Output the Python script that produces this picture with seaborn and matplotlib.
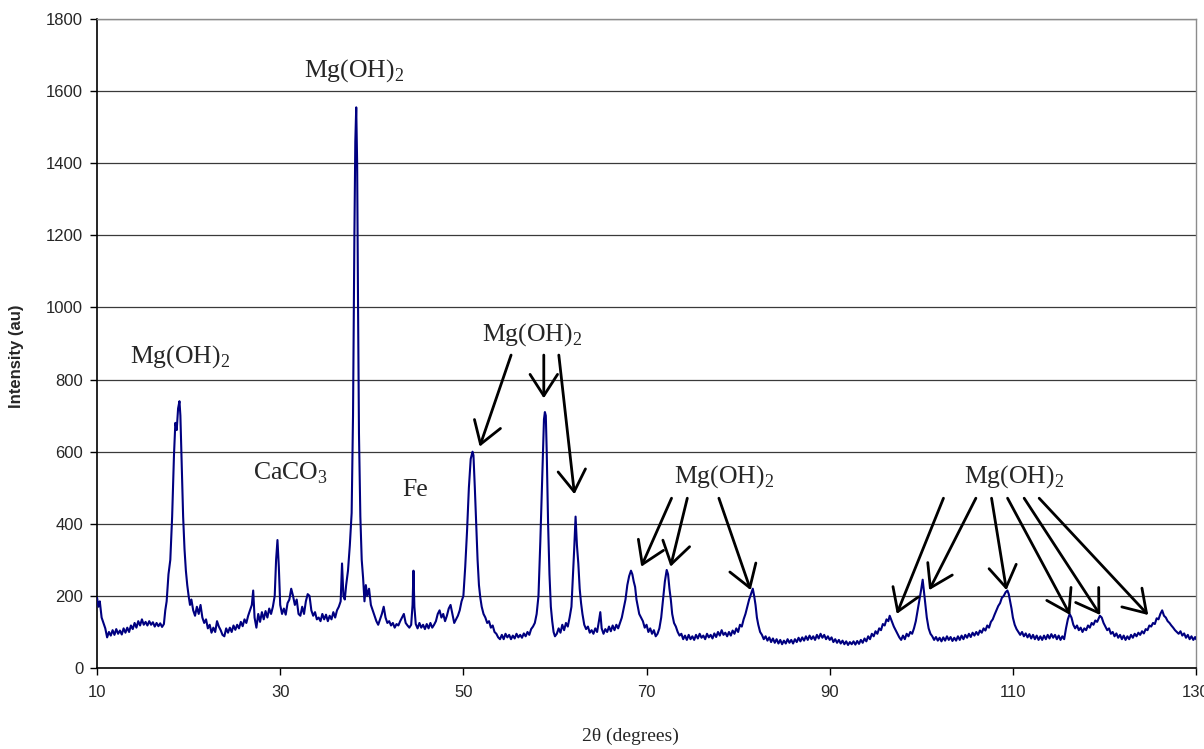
import matplotlib
matplotlib.use("Agg")
import matplotlib.pyplot as plt
import seaborn as sns
import pandas as pd

# XRD scan: 2-theta (degrees) and measured intensity (au)
two_theta = [
    10.0, 10.15, 10.3, 10.5, 10.7, 10.9, 11.1, 11.3, 11.5, 11.7, 11.9, 12.1, 12.3, 12.5, 12.7, 12.9,
    13.1, 13.3, 13.5, 13.7, 13.9, 14.1, 14.3, 14.5, 14.7, 14.9, 15.1, 15.3, 15.5, 15.7, 15.9, 16.1,
    16.3, 16.5, 16.7, 16.9, 17.1, 17.3, 17.45, 17.6, 17.8, 18.0, 18.2, 18.4, 18.55, 18.7, 18.85, 19.0,
    19.1, 19.25, 19.4, 19.55, 19.7, 19.85, 20.0, 20.15, 20.3, 20.5, 20.7, 20.9, 21.1, 21.3, 21.5, 21.7,
    21.9, 22.1, 22.3, 22.5, 22.7, 22.9, 23.1, 23.3, 23.5, 23.7, 23.9, 24.1, 24.3, 24.5, 24.7, 24.9,
    25.1, 25.3, 25.5, 25.7, 25.9, 26.1, 26.3, 26.5, 26.7, 26.9, 27.05, 27.2, 27.4, 27.6, 27.8, 28.0,
    28.2, 28.4, 28.6, 28.8, 29.0, 29.2, 29.4, 29.55, 29.7, 29.85, 30.0, 30.2, 30.4, 30.6, 30.8, 31.0,
    31.2, 31.4, 31.6, 31.8, 32.0, 32.2, 32.4, 32.6, 32.8, 33.0, 33.2, 33.4, 33.6, 33.8, 34.0, 34.2,
    34.4, 34.6, 34.8, 35.0, 35.2, 35.4, 35.6, 35.8, 36.0, 36.2, 36.4, 36.6, 36.75, 36.9, 37.05, 37.2,
    37.4, 37.6, 37.8, 37.95, 38.1, 38.2, 38.3, 38.4, 38.5, 38.6, 38.75, 38.9, 39.05, 39.2, 39.35, 39.5,
    39.7, 39.9, 40.1, 40.3, 40.5, 40.7, 40.9, 41.1, 41.3, 41.5, 41.7, 41.9, 42.1, 42.3, 42.5, 42.7,
    42.9, 43.1, 43.3, 43.5, 43.7, 43.9, 44.1, 44.3, 44.45, 44.55, 44.65, 44.8, 45.0, 45.2, 45.4, 45.6,
    45.8, 46.0, 46.2, 46.4, 46.6, 46.8, 47.0, 47.2, 47.4, 47.6, 47.8, 48.0, 48.2, 48.4, 48.6, 48.8,
    49.0, 49.2, 49.4, 49.6, 49.8, 50.0, 50.2, 50.4, 50.6, 50.8, 51.0, 51.1, 51.25, 51.4, 51.55, 51.7,
    51.85, 52.0, 52.2, 52.4, 52.6, 52.8, 53.0, 53.2, 53.4, 53.6, 53.8, 54.0, 54.2, 54.4, 54.6, 54.8,
    55.0, 55.2, 55.4, 55.6, 55.8, 56.0, 56.2, 56.4, 56.6, 56.8, 57.0, 57.2, 57.4, 57.6, 57.8, 58.0,
    58.2, 58.4, 58.6, 58.8, 58.9, 59.0, 59.1, 59.25, 59.4, 59.55, 59.7, 59.85, 60.0, 60.2, 60.4, 60.6,
    60.8, 61.0, 61.2, 61.4, 61.6, 61.8, 61.95, 62.1, 62.25, 62.4, 62.55, 62.7, 62.85, 63.0, 63.2, 63.4,
    63.6, 63.8, 64.0, 64.2, 64.4, 64.6, 64.8, 64.95, 65.1, 65.3, 65.5, 65.7, 65.9, 66.1, 66.3, 66.5,
    66.7, 66.9, 67.1, 67.3, 67.5, 67.7, 67.9, 68.1, 68.3, 68.45, 68.6, 68.75, 68.9, 69.05, 69.2, 69.4,
    69.6, 69.8, 70.0, 70.2, 70.4, 70.6, 70.8, 71.0, 71.2, 71.4, 71.6, 71.8, 72.0, 72.2, 72.35, 72.5,
    72.65, 72.8, 73.0, 73.2, 73.4, 73.6, 73.8, 74.0, 74.2, 74.4, 74.6, 74.8, 75.0, 75.2, 75.4, 75.6,
    75.8, 76.0, 76.2, 76.4, 76.6, 76.8, 77.0, 77.2, 77.4, 77.6, 77.8, 78.0, 78.2, 78.4, 78.6, 78.8,
    79.0, 79.2, 79.4, 79.6, 79.8, 80.0, 80.2, 80.4, 80.6, 80.8, 81.0, 81.2, 81.4, 81.6, 81.75, 81.9,
    82.05, 82.2, 82.4, 82.6, 82.8, 83.0, 83.2, 83.4, 83.6, 83.8, 84.0, 84.2, 84.4, 84.6, 84.8, 85.0,
    85.2, 85.4, 85.6, 85.8, 86.0, 86.2, 86.4, 86.6, 86.8, 87.0, 87.2, 87.4, 87.6, 87.8, 88.0, 88.2,
    88.4, 88.6, 88.8, 89.0, 89.2, 89.4, 89.6, 89.8, 90.0, 90.2, 90.4, 90.6, 90.8, 91.0, 91.2, 91.4,
    91.6, 91.8, 92.0, 92.2, 92.4, 92.6, 92.8, 93.0, 93.2, 93.4, 93.6, 93.8, 94.0, 94.2, 94.4, 94.6,
    94.8, 95.0, 95.2, 95.4, 95.6, 95.8, 96.0, 96.2, 96.4, 96.55, 96.7, 96.85, 97.0, 97.2, 97.4, 97.6,
    97.8, 98.0, 98.2, 98.4, 98.6, 98.8, 99.0, 99.2, 99.4, 99.6, 99.8, 100.0, 100.15, 100.3, 100.45, 100.6,
    100.8, 101.0, 101.2, 101.4, 101.6, 101.8, 102.0, 102.2, 102.4, 102.6, 102.8, 103.0, 103.2, 103.4, 103.6, 103.8,
    104.0, 104.2, 104.4, 104.6, 104.8, 105.0, 105.2, 105.4, 105.6, 105.8, 106.0, 106.2, 106.4, 106.6, 106.8, 107.0,
    107.2, 107.4, 107.6, 107.8, 108.0, 108.2, 108.4, 108.6, 108.8, 109.0, 109.2, 109.4, 109.55, 109.7, 109.85, 110.0,
    110.2, 110.4, 110.6, 110.8, 111.0, 111.2, 111.4, 111.6, 111.8, 112.0, 112.2, 112.4, 112.6, 112.8, 113.0, 113.2,
    113.4, 113.6, 113.8, 114.0, 114.2, 114.4, 114.6, 114.8, 115.0, 115.2, 115.4, 115.6, 115.8, 116.0, 116.2, 116.4,
    116.6, 116.8, 117.0, 117.2, 117.4, 117.6, 117.8, 118.0, 118.2, 118.4, 118.6, 118.8, 119.0, 119.2, 119.5, 119.7,
    119.9, 120.1, 120.3, 120.5, 120.7, 120.9, 121.1, 121.3, 121.5, 121.7, 121.9, 122.1, 122.3, 122.5, 122.7, 122.9,
    123.1, 123.3, 123.5, 123.7, 123.9, 124.1, 124.3, 124.5, 124.7, 124.9, 125.1, 125.3, 125.5, 125.7, 125.9, 126.1,
    126.3, 126.5, 126.7, 126.9, 127.1, 127.3, 127.5, 127.7, 127.9, 128.1, 128.3, 128.5, 128.7, 128.9, 129.1, 129.3,
    129.5, 129.7, 129.9, 130.0,
]
intensity = [
    195, 170, 185, 140, 125, 110, 85, 100, 90, 105, 92, 108, 95, 104, 93, 110,
    98, 112, 100, 118, 108, 125, 112, 130, 118, 135, 120, 128, 118, 130, 120, 127,
    115, 125, 116, 124, 114, 122, 160, 185, 260, 300, 420, 590, 680, 660, 720, 740,
    700, 560, 420, 330, 270, 230, 200, 175, 190, 160, 145, 170, 150, 175, 140, 125,
    135, 110, 120, 98, 112, 100, 130, 115, 105, 92, 88, 110, 98, 112, 100, 118,
    106, 120, 110, 128, 116, 135, 125, 145, 160, 175, 215, 140, 112, 150, 128, 155,
    135, 158, 140, 165, 150, 170, 200, 300, 355, 280, 175, 150, 165, 148, 180, 190,
    220, 200, 175, 190, 150, 145, 170, 150, 185, 205, 200, 160, 145, 155, 135, 140,
    130, 150, 135, 148, 130, 145, 135, 155, 140, 160, 170, 185, 290, 200, 190, 230,
    270, 340, 430, 700, 1200, 1460, 1555, 1400, 1000, 650, 420, 300, 250, 185, 230, 200,
    220, 175, 160, 145, 130, 120, 135, 150, 170, 140, 125, 130, 118, 125, 112, 122,
    118, 130, 140, 150, 125, 118, 112, 120, 175, 270, 170, 122, 110, 125, 112, 120,
    108, 122, 110, 125, 112, 120, 130, 150, 160, 140, 150, 130, 145, 165, 175, 150,
    125, 135, 145, 160, 185, 200, 280, 380, 500, 580, 600, 590, 500, 400, 300, 230,
    195, 170, 150, 140, 125, 130, 112, 118, 100, 95, 85, 80, 92, 80, 95, 85,
    92, 80, 90, 82, 95, 85, 92, 84, 96, 88, 100, 92, 108, 115, 125, 150,
    200, 350, 520, 690, 710, 700, 600, 400, 260, 170, 130, 100, 88, 95, 110, 98,
    120, 105, 125, 115, 140, 170, 250, 330, 420, 340, 290, 220, 180, 150, 120, 108,
    115, 98, 105, 95, 110, 100, 130, 155, 110, 95, 108, 100, 115, 102, 118, 105,
    120, 110, 125, 140, 165, 190, 230, 255, 270, 260, 240, 225, 190, 170, 150, 140,
    130, 112, 120, 100, 110, 95, 105, 88, 95, 110, 140, 190, 240, 272, 260, 220,
    190, 150, 125, 115, 100, 90, 95, 80, 90, 78, 92, 80, 88, 78, 92, 82,
    95, 84, 90, 80, 95, 85, 92, 82, 96, 86, 100, 90, 105, 92, 98, 88,
    100, 90, 104, 95, 110, 100, 120, 115, 135, 150, 170, 190, 205, 220, 200, 175,
    140, 120, 100, 92, 80, 88, 76, 85, 72, 82, 70, 80, 68, 78, 66, 76,
    68, 80, 70, 78, 68, 80, 72, 84, 74, 85, 76, 88, 78, 90, 80, 88,
    78, 92, 82, 95, 84, 92, 80, 88, 78, 85, 72, 80, 70, 78, 68, 76,
    66, 74, 64, 72, 66, 74, 65, 75, 67, 78, 70, 82, 74, 88, 80, 95,
    88, 102, 95, 110, 105, 122, 118, 135, 130, 145, 135, 125, 115, 105, 95, 85,
    78, 90, 80, 95, 88, 100, 95, 110, 130, 160, 190, 220, 245, 210, 175, 140,
    110, 95, 88, 78, 86, 76, 84, 74, 85, 76, 88, 78, 86, 75, 84, 76,
    88, 78, 90, 80, 92, 84, 95, 86, 98, 90, 100, 92, 104, 98, 110, 104,
    118, 112, 128, 135, 148, 160, 172, 180, 195, 200, 210, 215, 205, 185, 165, 140,
    120, 108, 100, 92, 100, 88, 96, 85, 94, 82, 92, 80, 90, 78, 88, 78,
    90, 80, 92, 82, 94, 84, 92, 80, 90, 78, 88, 80, 110, 135, 150, 140,
    120, 110, 118, 105, 112, 100, 110, 105, 118, 112, 125, 120, 132, 128, 145, 140,
    125, 115, 105, 110, 95, 100, 88, 96, 84, 92, 80, 90, 78, 88, 80, 92,
    84, 95, 88, 98, 92, 102, 96, 108, 105, 118, 115, 125, 122, 138, 135, 150,
    160, 145, 140, 130, 125, 118, 112, 105, 100, 95, 102, 90, 96, 84, 92, 80,
    88, 78, 86, 80,
]

# Phase labels: (text, x, y)
labels = [
    (r"Mg(OH)$_\mathregular{2}$", 38.1, 1658),
    (r"Mg(OH)$_\mathregular{2}$", 19.07, 865),
    (r"CaCO$_\mathregular{3}$", 31.1, 541),
    ("Fe", 44.75, 494),
    (r"Mg(OH)$_\mathregular{2}$", 57.5, 926),
    (r"Mg(OH)$_\mathregular{2}$", 78.5, 532),
    (r"Mg(OH)$_\mathregular{2}$", 110.1, 532),
]

# Arrows pointing from a phase label to its reflections: (x_tail, y_tail, x_head, y_head)
arrows = [
    (55.21, 868, 51.78, 614),
    (58.78, 868, 58.78, 748),
    (60.42, 868, 62.13, 482),
    (72.73, 471, 69.42, 281),
    (74.45, 471, 72.62, 281),
    (77.90, 471, 81.37, 216),
    (102.42, 471, 97.32, 150),
    (105.96, 471, 100.86, 216),
    (107.67, 471, 109.30, 216),
    (109.42, 471, 116.26, 147),
    (111.23, 471, 119.54, 147),
    (112.87, 471, 124.78, 147),
]

x_ticks = [10, 30, 50, 70, 90, 110, 130]
y_ticks = [0, 200, 400, 600, 800, 1000, 1200, 1400, 1600, 1800]

sns.set_style("white")
plt.rcParams["font.family"] = ["Liberation Sans", "DejaVu Sans"]
plt.rcParams["mathtext.fontset"] = "custom"
plt.rcParams["mathtext.rm"] = "Liberation Serif"

df = pd.DataFrame({"two_theta": two_theta, "intensity": intensity})

fig = plt.figure(figsize=(12.04, 7.49), dpi=100)
ax = fig.add_axes([0.0806, 0.1081, 0.9128, 0.8665])

for y in y_ticks[1:]:
    ax.axhline(y, color="#3a3a3a", lw=0.9, zorder=1)

sns.lineplot(data=df, x="two_theta", y="intensity", ax=ax, color="#000080",
             lw=1.5, zorder=3, estimator=None, sort=False)

ax.set_xlim(10, 130)
ax.set_ylim(0, 1800)
ax.set_xticks(x_ticks)
ax.set_yticks(y_ticks)
ax.tick_params(axis="both", direction="out", length=5, width=1, color="black",
               labelsize=12, pad=5, bottom=True, left=True)
ax.tick_params(axis="x", pad=7)

for side in ("left", "bottom"):
    ax.spines[side].set_color("black")
    ax.spines[side].set_linewidth(1.2)
for side in ("top", "right"):
    ax.spines[side].set_color("#8c8c8c")
    ax.spines[side].set_linewidth(1.0)
for sp in ax.spines.values():
    sp.set_clip_on(False)

ax.set_xlabel("2θ (degrees)", family="Liberation Serif", fontsize=14)
ax.xaxis.set_label_coords(0.485, -0.092)
ax.set_ylabel("Intensity (au)", fontsize=12, fontweight="bold")
ax.yaxis.set_label_coords(-0.0664, 0.48)

for text, x, y in labels:
    ax.text(x, y, text, family="Liberation Serif", fontsize=18.5,
            ha="center", va="center", zorder=5)

for x0, y0, x1, y1 in arrows:
    ax.annotate("", xy=(x1, y1), xytext=(x0, y0),
                arrowprops=dict(arrowstyle="->,head_length=0.7,head_width=0.45",
                                color="black", lw=2.0, mutation_scale=22,
                                shrinkA=0, shrinkB=0),
                zorder=4)

fig.savefig("out.png", dpi=100)
